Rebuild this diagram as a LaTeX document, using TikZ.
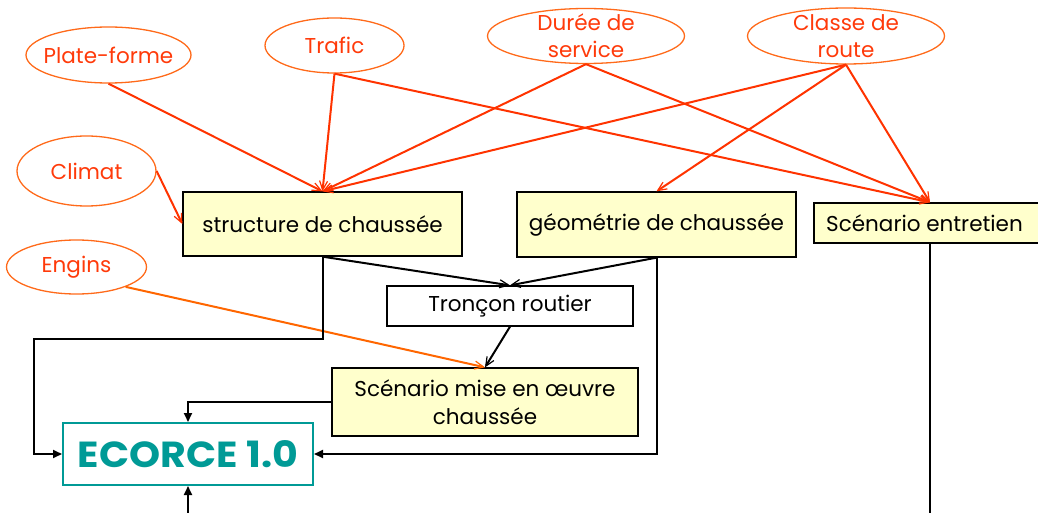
\documentclass[tikz,border=0pt]{standalone}
\usepackage{fontspec}
\setmainfont{Poppins}
\usetikzlibrary{shapes.geometric,arrows.meta}
\definecolor{ellline}{HTML}{FF6A1A}
\definecolor{elltext}{HTML}{FF3A0A}
\definecolor{redarrow}{HTML}{FF3300}
\definecolor{engarrow}{HTML}{FF6600}
\definecolor{boxfill}{HTML}{FFFFCC}
\definecolor{teal}{HTML}{009A96}
\tikzset{
  ell/.style={draw=ellline, line width=1.3pt, ellipse, inner sep=0pt},
  etext/.style={text=elltext, font=\fontsize{21.5}{27}\selectfont, align=center, inner sep=0pt},
  ybox/.style={draw=black, line width=1.3pt, fill=boxfill, inner sep=0pt, font=\fontsize{21.5}{28}\selectfont, align=center},
  wbox/.style={draw=black, line width=1.3pt, fill=white, inner sep=0pt, font=\fontsize{21.5}{28}\selectfont},
  rarr/.style={draw=redarrow, line width=2pt, -{Straight Barb[length=9pt,width=8pt,line width=1.2pt]}},
  oarr/.style={draw=engarrow, line width=2pt, -{Straight Barb[length=9pt,width=8pt,line width=1.2pt]}},
  barr/.style={draw=black, line width=2pt, -{Straight Barb[length=9pt,width=8pt,line width=1.2pt]}},
  farr/.style={draw=black, line width=2pt, -{Triangle[length=9pt,width=8pt]}},
  plain/.style={draw=black, line width=2pt},
}
\begin{document}
\begin{tikzpicture}[x=1pt,y=-1pt]
\useasboundingbox (0,0) rectangle (1038,513);
\clip (0,0) rectangle (1038,513);
% ellipses
\node[ell, minimum width=165pt, minimum height=56pt] (plat) at (108.5,55) {};
\node[etext] (platt) at (plat) {Plate-forme};
\node[ell, minimum width=139pt, minimum height=55pt] (traf) at (334.5,45.5) {};
\node[etext] (traft) at (traf) {Trafic};
\node[ell, minimum width=197pt, minimum height=55pt] (dur) at (586,36) {};
\node[etext] (durt) at (dur) {Durée de\\service};
\node[ell, minimum width=197pt, minimum height=56pt] (cla) at (846,36) {};
\node[etext] (clat) at (cla) {Classe de\\route};
\node[ell, minimum width=139pt, minimum height=70pt] (cli) at (86.5,171) {};
\node[etext] (clit) at (cli) {Climat};
\node[ell, minimum width=140pt, minimum height=54pt] (eng) at (76.5,267) {};
\node[etext] (engt) at (eng) {Engins};
% boxes
\node[ybox, minimum width=279pt, minimum height=64pt] (str) at (322.5,224) {structure de chaussée};
\node[ybox, minimum width=279pt, minimum height=65pt] (geo) at (656.5,224.5) {géométrie de chaussée};
\node[ybox, minimum width=232pt, minimum height=40pt] (ent) at (930,223) {};
\node[font=\fontsize{21.5}{28}\selectfont, anchor=west, inner sep=0pt] (entt) at (826,223) {Scénario entretien};
\node[wbox, minimum width=246pt, minimum height=40pt] (tro) at (510,306) {Tronçon routier};
\node[ybox, minimum width=306pt, minimum height=68pt] (mise) at (485,402) {Scénario mise en œuvre\\chaussée};
\node[draw=teal, line width=2pt, fill=white, minimum width=250pt, minimum height=62pt, inner sep=0pt, text=teal] (eco) at (188,454)
  {\resizebox{220pt}{27pt}{\bfseries ECORCE 1.0}};
% red arrows
\draw[rarr] (plat.south) -- (str.north);
\draw[rarr] (traf.south) -- (str.north);
\draw[rarr] (traf.south) -- (ent.north);
\draw[rarr] (dur.south) -- (str.north);
\draw[rarr] (dur.south) -- (ent.north);
\draw[rarr] (cla.south) -- (str.north);
\draw[rarr] (cla.south) -- (geo.north);
\draw[rarr] (cla.south) -- (ent.north);
\draw[rarr] (cli.east) -- (str.west);
\draw[oarr] (eng.-22) -- (mise.north);
% black connectors
\coordinate (tin) at (tro.north);
\draw[barr] (str.south) -- (tin);
\draw[barr] (geo.south) -- (tin);
\draw[barr] (tro.south) -- (mise.north);
\coordinate (c1) at (34,339);
\draw[farr] (str.south) |- (c1) |- (eco.west);
\draw[farr] (mise.west) -| (eco.north);
\draw[farr] (geo.south) |- (eco.east);
\coordinate (bot) at (188,513);
\draw[farr] (bot) -- (eco.south);
\coordinate (entbot) at (930,513);
\draw[plain] (ent.south) -- (entbot);
\end{tikzpicture}
\end{document}
